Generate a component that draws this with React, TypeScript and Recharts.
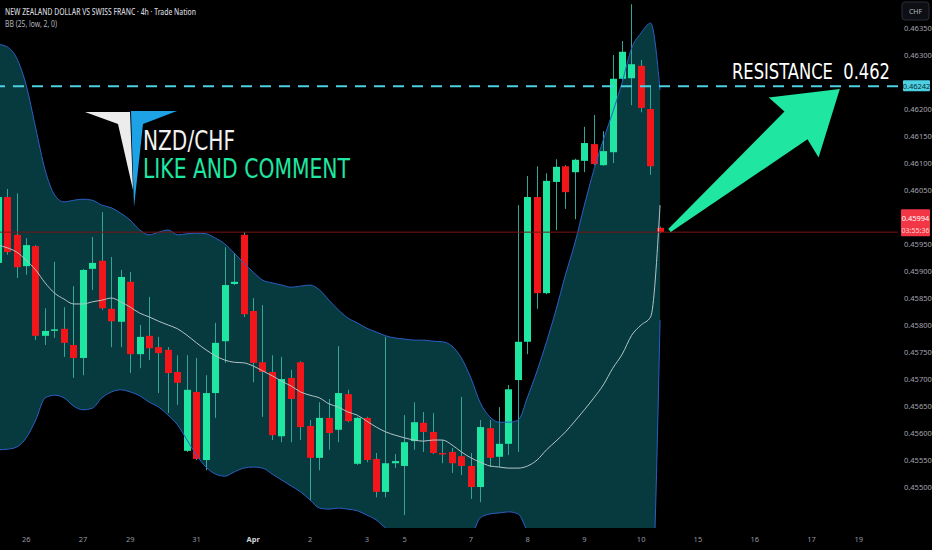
import React from "react";
import {
  Area,
  Bar,
  ComposedChart,
  Line,
  ReferenceLine,
  XAxis,
  YAxis,
} from "recharts";

// 4h candles, first one is index -1 (half hidden at the left edge)
const FIRST_INDEX = -1;

const OPEN = [
  0.45915,
  0.46037, 0.45967, 0.45909, 0.45946, 0.4578, 0.4579, 0.45793, 0.45763, 0.45739, 0.45904,
  0.45919, 0.4583, 0.45806, 0.4588, 0.45746, 0.4578, 0.45759, 0.45754, 0.45713, 0.45567,
  0.45676, 0.4555, 0.45674, 0.4577, 0.45876, 0.45967, 0.45826, 0.45731, 0.45713, 0.45594,
  0.45702, 0.45731, 0.45613, 0.45554, 0.45628, 0.45606, 0.45672, 0.45543, 0.45628, 0.45552,
  0.45491, 0.45544, 0.45539, 0.45585, 0.45619, 0.45602, 0.45563, 0.45565, 0.45557, 0.45539,
  0.455, 0.45609, 0.45556, 0.4558, 0.45698, 0.45769, 0.46037, 0.45859, 0.46065, 0.46094,
  0.46083, 0.46104, 0.46135, 0.46096, 0.4612, 0.46256, 0.46257, 0.4628, 0.462, 0.4598,
];

const HIGH = [
  0.4605,
  0.46052, 0.46044, 0.45961, 0.45948, 0.45831, 0.45917, 0.45833, 0.45872, 0.45904, 0.45963,
  0.46009, 0.45926, 0.45902, 0.45898, 0.458, 0.45852, 0.45778, 0.45759, 0.45744, 0.45744,
  0.45739, 0.45707, 0.45804, 0.45944, 0.45933, 0.45972, 0.4585, 0.45837, 0.45744, 0.45741,
  0.45717, 0.45733, 0.45624, 0.45657, 0.45663, 0.45761, 0.4568, 0.4563, 0.4563, 0.45563,
  0.45778, 0.45561, 0.45633, 0.45657, 0.45639, 0.45637, 0.45587, 0.45572, 0.45667, 0.45563,
  0.45624, 0.45624, 0.45648, 0.45689, 0.46022, 0.46076, 0.46094, 0.46081, 0.46107, 0.46096,
  0.46108, 0.46167, 0.46189, 0.46159, 0.463, 0.46326, 0.46394, 0.46291, 0.46244, 0.45982,
];

const LOW = [
  0.45911,
  0.4593, 0.45887, 0.45893, 0.45772, 0.45763, 0.45776, 0.45741, 0.45702, 0.45707, 0.45865,
  0.45828, 0.45759, 0.45759, 0.45711, 0.4572, 0.45735, 0.45674, 0.45637, 0.45652, 0.45565,
  0.4555, 0.45531, 0.45628, 0.4573, 0.45874, 0.45815, 0.45694, 0.4563, 0.45587, 0.45583,
  0.45583, 0.45587, 0.45476, 0.45531, 0.45569, 0.45583, 0.4562, 0.45541, 0.45546, 0.45481,
  0.45481, 0.45535, 0.45448, 0.45569, 0.45565, 0.45561, 0.45544, 0.45526, 0.45522, 0.45478,
  0.45472, 0.45537, 0.45537, 0.45559, 0.45565, 0.45746, 0.4583, 0.45857, 0.45976, 0.46015,
  0.45996, 0.46083, 0.46096, 0.46095, 0.461, 0.46254, 0.46207, 0.46194, 0.46078, 0.4597,
];

const CLOSE = [
  0.46037,
  0.45935, 0.45907, 0.45948, 0.4578, 0.45789, 0.45792, 0.45767, 0.45739, 0.45902, 0.45915,
  0.45831, 0.45807, 0.45889, 0.45746, 0.45778, 0.45757, 0.45748, 0.45711, 0.45693, 0.4568,
  0.45552, 0.45674, 0.45767, 0.45874, 0.4588, 0.4582, 0.4573, 0.45713, 0.45596, 0.457,
  0.45663, 0.45611, 0.45554, 0.45628, 0.456, 0.45674, 0.45622, 0.45628, 0.4555, 0.45491,
  0.45544, 0.45548, 0.45583, 0.4562, 0.45602, 0.45563, 0.45561, 0.45544, 0.45539, 0.455,
  0.45611, 0.45554, 0.4558, 0.45681, 0.45769, 0.46037, 0.45859, 0.46067, 0.46093, 0.46046,
  0.46106, 0.46137, 0.46098, 0.46122, 0.46256, 0.46306, 0.46283, 0.46202, 0.46094, 0.45972,
];

// Bollinger bands (25, low, 2)
const BB_UPPER = [
  0.4632,
  0.46315, 0.46294, 0.46244, 0.46165, 0.46087, 0.46041, 0.46028, 0.46031, 0.46033, 0.46031,
  0.46022, 0.46017, 0.46007, 0.45994, 0.45976, 0.45967, 0.45972, 0.45976, 0.45967, 0.45969,
  0.4597, 0.45969, 0.45961, 0.4595, 0.45933, 0.45915, 0.45898, 0.45883, 0.45878, 0.45874,
  0.4587, 0.45872, 0.45874, 0.45865, 0.45846, 0.45828, 0.45813, 0.45804, 0.45794, 0.45787,
  0.4578, 0.45776, 0.45774, 0.45772, 0.45772, 0.4577, 0.45769, 0.45761, 0.45739, 0.45702,
  0.45656, 0.4563, 0.4562, 0.4562, 0.45624, 0.45667, 0.45715, 0.45769, 0.45828, 0.45893,
  0.45952, 0.46022, 0.46087, 0.46143, 0.46194, 0.4625, 0.46313, 0.46341, 0.46359, 0.46235,
];

const BB_MID = [
  0.45948,
  0.45943, 0.45935, 0.4592, 0.45902, 0.45878, 0.45859, 0.45848, 0.45839, 0.45839, 0.45843,
  0.45846, 0.4585, 0.45843, 0.45833, 0.45822, 0.45815, 0.45807, 0.458, 0.45793, 0.45781,
  0.45767, 0.45754, 0.45743, 0.45735, 0.45731, 0.4573, 0.45724, 0.45715, 0.45706, 0.45696,
  0.45687, 0.45676, 0.4567, 0.45665, 0.45654, 0.45648, 0.45639, 0.45633, 0.45622, 0.45611,
  0.45602, 0.45596, 0.45591, 0.45587, 0.45585, 0.45587, 0.45587, 0.45578, 0.45565, 0.45554,
  0.45546, 0.45539, 0.45537, 0.45535, 0.45535, 0.45539, 0.4555, 0.45569, 0.45585, 0.45602,
  0.45622, 0.45643, 0.45665, 0.45689, 0.4572, 0.45746, 0.45781, 0.458, 0.45815, 0.46022,
];

const BB_LOWER = [
  0.45569,
  0.4557, 0.45574, 0.45591, 0.45624, 0.45665, 0.4567, 0.45665, 0.4565, 0.45643, 0.45646,
  0.45665, 0.45676, 0.4568, 0.45676, 0.45669, 0.45657, 0.45648, 0.45633, 0.45615, 0.45587,
  0.45559, 0.45537, 0.45524, 0.4552, 0.45528, 0.45535, 0.45537, 0.45535, 0.45524, 0.45513,
  0.45502, 0.45491, 0.45476, 0.45461, 0.45459, 0.45461, 0.45459, 0.45456, 0.45448, 0.45439,
  0.45424, 0.45417, 0.45407, 0.45402, 0.45398, 0.45404, 0.45406, 0.45394, 0.45391, 0.45406,
  0.45443, 0.4545, 0.45452, 0.45454, 0.4545, 0.45417, 0.45385, 0.45369, 0.45343, 0.45311,
  0.45293, 0.45263, 0.45243, 0.45235, 0.45246, 0.45243, 0.4525, 0.45259, 0.4527, 0.45809,
];

const X_TICKS = [2, 8, 13, 20, 26, 32, 38, 42, 49, 55, 61, 67, 73, 79, 85, 90];
const X_LABELS = ["26", "27", "29", "31", "Apr", "2", "3", "5", "7", "8", "9", "10", "15", "16", "17", "19"];

// 0.46250 and 0.46000 sit under the price tags, so they are not shown
const Y_TICKS = [
  0.455, 0.4555, 0.456, 0.4565, 0.457, 0.4575, 0.458, 0.4585, 0.459,
  0.4595, 0.4605, 0.461, 0.4615, 0.462, 0.463, 0.4635,
];

const RESISTANCE = 0.46242;
const RESISTANCE_TEXT = "RESISTANCE\u00a0\u00a00.462";
const LAST_CLOSE = 0.45972;
const LAST_LABEL = "0.45994";
const COUNTDOWN = "03:55:36";
// arrow from the last candle up to the resistance (index, price)
const ARROW_FROM = { x: 70, y: 0.45975 };
const ARROW_TO = { x: 88, y: 0.46237 };

const GREEN = "#1fe6a0";
const RED = "#f2161b";
const WICK = "#34a596";
const FONT = "'Noto Sans', 'DejaVu Sans', sans-serif";
const NARROW = "'Liberation Sans Narrow', 'DejaVu Sans Condensed', 'Noto Sans', sans-serif";

const data = OPEN.map((open, k) => ({
  i: FIRST_INDEX + k,
  open,
  high: HIGH[k],
  low: LOW[k],
  close: CLOSE[k],
  range: [LOW[k], HIGH[k]],
  band: [BB_LOWER[k], BB_UPPER[k]],
  upper: BB_UPPER[k],
  mid: BB_MID[k],
  lower: BB_LOWER[k],
}));

const Candle = (props: any) => {
  const { x, y, width, height, payload } = props;
  if (!payload || height == null) return null;
  const { open, close, high, low } = payload;
  const top = Math.min(y, y + height);
  const h = Math.abs(height);
  const py = (v: number) => top + ((high - v) / (high - low || 1)) * h;
  const cx = Math.round(x + width / 2) + 0.5;
  const up = close >= open;
  const bTop = py(Math.max(open, close));
  const bBot = py(Math.min(open, close));
  return (
    <g>
      <line x1={cx} x2={cx} y1={top} y2={top + h} stroke={WICK} strokeWidth={1} />
      <rect
        x={cx - 3.5}
        y={bTop}
        width={7}
        height={Math.max(1.5, bBot - bTop)}
        fill={up ? GREEN : RED}
      />
    </g>
  );
};

const XTick = (props: any) => {
  const { x, y, payload } = props;
  const idx = X_TICKS.indexOf(payload.value);
  const label = X_LABELS[idx] ?? "";
  const isMonth = label === "Apr";
  return (
    <text
      x={x}
      y={y + 6}
      textAnchor="middle"
      fontSize={7.5}
      fontFamily={FONT}
      fontWeight={isMonth ? 700 : 400}
      fill={isMonth ? "#d1d4dc" : "#9598a1"}
    >
      {label}
    </text>
  );
};

// big green arrow drawn along a reference segment
const Arrow = (props: any) => {
  const { x1, y1, x2, y2 } = props;
  if (x1 == null) return null;
  const dx = x2 - x1;
  const dy = y2 - y1;
  const len = Math.sqrt(dx * dx + dy * dy);
  const ux = dx / len;
  const uy = dy / len;
  const nx = -uy;
  const ny = ux;
  const pt = (s: number, t: number) => `${x1 + ux * s + nx * t},${y1 + uy * s + ny * t}`;
  const pts = [
    pt(0, -2),
    pt(len - 57, -18),
    pt(len - 60, -39),
    pt(len, 0),
    pt(len - 60, 39),
    pt(len - 57, 18),
    pt(0, 2),
  ].join(" ");
  return <polygon points={pts} fill={GREEN} />;
};

const ResistanceTag = (props: any) => {
  const { viewBox } = props;
  if (!viewBox) return null;
  const right = viewBox.x + viewBox.width;
  const cy = viewBox.y;
  return (
    <g>
      <rect x={right + 5} y={cy - 6} width={27} height={11} fill="#4dd0e1" rx={1} />
      <text x={right + 18.5} y={cy + 2.5} textAnchor="middle" fontSize={7.5} fontFamily={FONT} fill="#0b2f38">
        {RESISTANCE.toFixed(5)}
      </text>
    </g>
  );
};

const PriceTag = (props: any) => {
  const { viewBox } = props;
  if (!viewBox) return null;
  const right = viewBox.x + viewBox.width;
  const cy = viewBox.y;
  return (
    <g>
      <rect x={right + 3} y={cy - 23} width={29} height={27} fill="#f23645" rx={1} />
      <text x={right + 17.5} y={cy - 11} textAnchor="middle" fontSize={7.5} fontFamily={FONT} fill="#ffffff">
        {LAST_LABEL}
      </text>
      <text x={right + 17.5} y={cy + 0.5} textAnchor="middle" fontSize={7} fontFamily={FONT} fill="#ffd6d6">
        {COUNTDOWN}
      </text>
    </g>
  );
};

export default function App() {
  return (
    <div
      style={{
        position: "fixed",
        left: 0,
        top: 0,
        width: 932,
        height: 550,
        background: "#000000",
        overflow: "hidden",
      }}
    >
      <ComposedChart
        width={932}
        height={550}
        data={data}
        margin={{ top: 0, right: 0, bottom: 0, left: 0 }}
      >
        <XAxis
          dataKey="i"
          type="number"
          domain={[-0.77, 94.15]}
          allowDataOverflow
          ticks={X_TICKS}
          tick={<XTick />}
          axisLine={false}
          tickLine={false}
          height={22}
          interval={0}
        />
        <YAxis
          orientation="right"
          type="number"
          domain={[0.454241, 0.464019]}
          allowDataOverflow
          ticks={Y_TICKS}
          tickFormatter={(v: number) => v.toFixed(5)}
          tick={{ fontSize: 7.5, fill: "#a3a6af", fontFamily: FONT }}
          axisLine={false}
          tickLine={false}
          tickMargin={0}
          width={34}
          interval={0}
        />
        <Area
          dataKey="band"
          type="monotone"
          fill="#073a3f"
          fillOpacity={1}
          stroke="none"
          isAnimationActive={false}
        />
        <Line dataKey="upper" type="monotone" stroke="#2a5fc4" strokeWidth={1} dot={false} isAnimationActive={false} />
        <Line dataKey="lower" type="monotone" stroke="#2a5fc4" strokeWidth={1} dot={false} isAnimationActive={false} />
        <Line dataKey="mid" type="monotone" stroke="#b3c4c6" strokeWidth={1} dot={false} isAnimationActive={false} />
        <Bar dataKey="range" barSize={7} shape={<Candle />} isAnimationActive={false} />
        <ReferenceLine y={LAST_CLOSE} stroke="#7a1414" strokeWidth={1} label={<PriceTag />} />
        <ReferenceLine
          y={RESISTANCE}
          stroke="#4dd0e1"
          strokeWidth={2}
          strokeDasharray="11 8"
          label={<ResistanceTag />}
        />
        <ReferenceLine segment={[ARROW_FROM, ARROW_TO]} shape={<Arrow />} />
      </ComposedChart>

      <svg
        width={932}
        height={550}
        style={{ position: "absolute", left: 0, top: 0, pointerEvents: "none" }}
      >
        <text x={5} y={15} fontSize={8.5} fontFamily={FONT} fontWeight={500} fill="#d1d4dc" textLength={191} lengthAdjust="spacingAndGlyphs">
          NEW ZEALAND DOLLAR VS SWISS FRANC · 4h · Trade Nation
        </text>
        <text x={5} y={27} fontSize={8} fontFamily={FONT} fill="#b2b5be" textLength={52} lengthAdjust="spacingAndGlyphs">
          BB (25, low, 2, 0)
        </text>

        <rect x={902} y={2} width={27} height={18} rx={3} fill="#0d0f14" stroke="#2a2e39" />
        <text x={915.5} y={14} textAnchor="middle" fontSize={7} fontFamily={FONT} fill="#b2b5be">
          CHF
        </text>

        {/* logo */}
        <polygon points="85,112 130,112 133,190 118,124" fill="#ececec" />
        <polygon points="131,111 177,111 143,124 134,207" fill="#1ea2e6" />
        <text x={143} y={150} fontSize={27} fontFamily={NARROW} fill="#f2f2f2" textLength={92} lengthAdjust="spacingAndGlyphs">
          NZD/CHF
        </text>
        <text x={143} y={178} fontSize={27} fontFamily={NARROW} fill={GREEN} textLength={207} lengthAdjust="spacingAndGlyphs">
          LIKE AND COMMENT
        </text>

        <text x={732} y={79} fontSize={22} fontFamily={NARROW} fill="#ffffff" textLength={158} lengthAdjust="spacingAndGlyphs">
          {RESISTANCE_TEXT}
        </text>
      </svg>
    </div>
  );
}
